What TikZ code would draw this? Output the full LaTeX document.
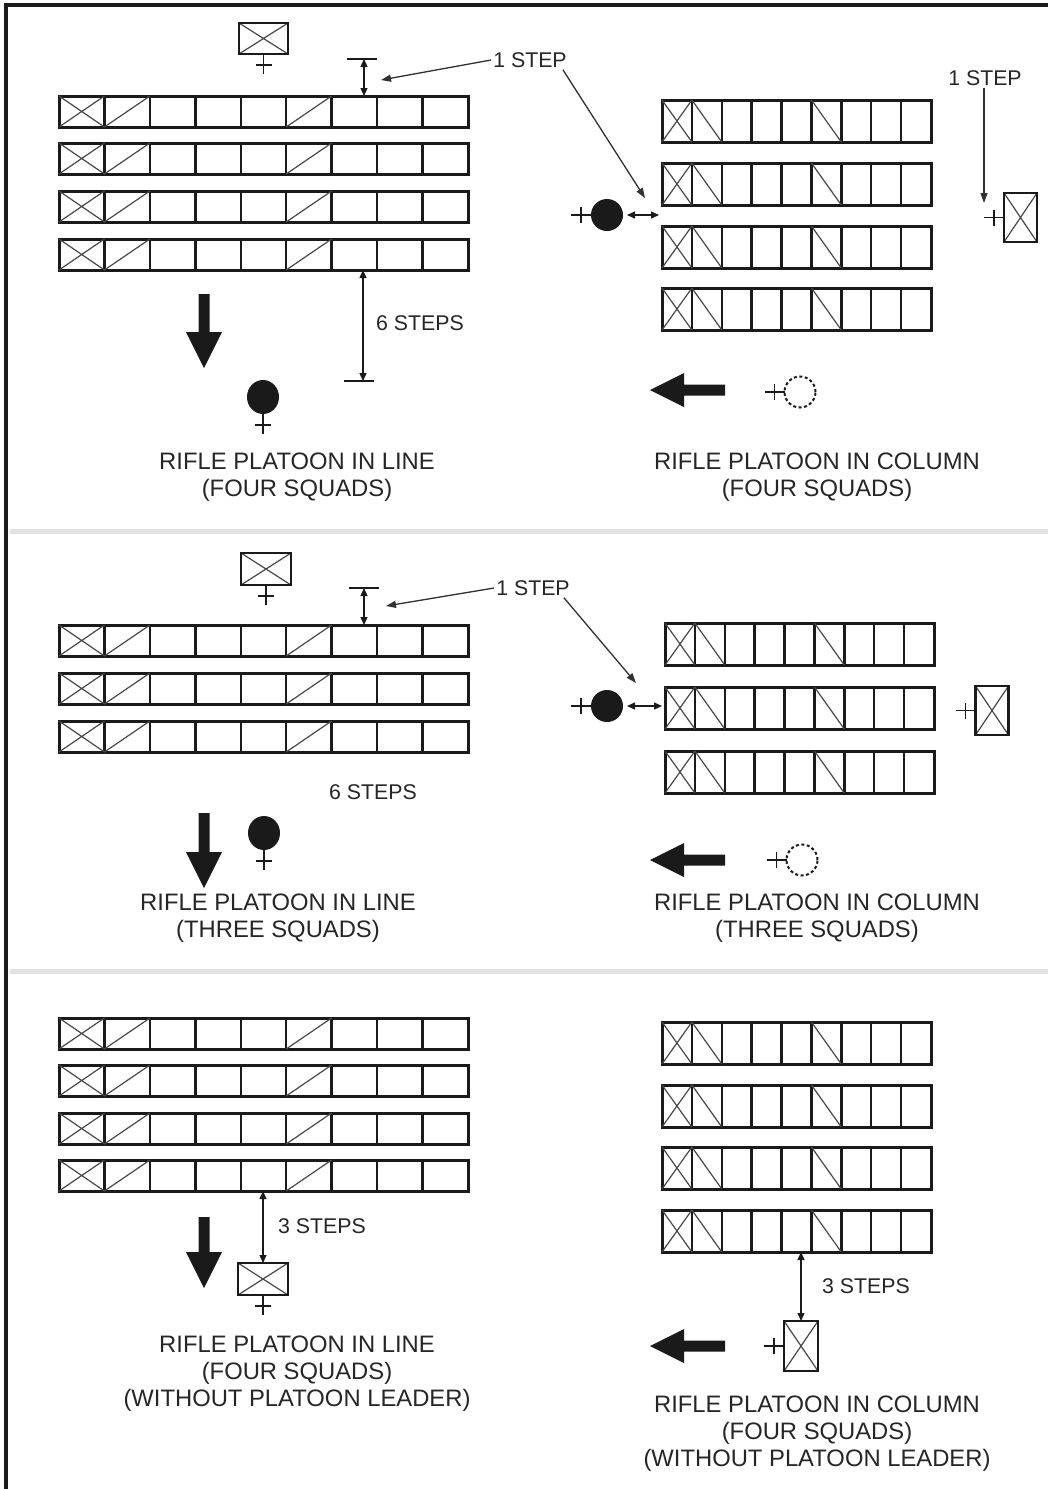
\documentclass[tikz,border=0pt]{standalone}
\usepackage{fontspec}
\setmainfont{Liberation Sans}
\usetikzlibrary{arrows.meta,shapes.geometric,calc}
\definecolor{ink}{HTML}{1A1A1A}
\definecolor{txt}{HTML}{262626}
\definecolor{sepgray}{HTML}{E3E3E3}
\tikzset{
  rowframe/.style={draw=ink, line width=3pt, inner sep=0pt, outer sep=0pt},
  cellsep/.style={draw=ink, line width=2.4pt},
  diag/.style={draw=ink!80, line width=1.2pt},
  leaderbox/.style={draw=ink, line width=2.5pt, inner sep=0pt, outer sep=0pt,
    path picture={\draw[diag] (path picture bounding box.north west) -- (path picture bounding box.south east)
      (path picture bounding box.south west) -- (path picture bounding box.north east);}},
  crossmark/.style={draw=ink, line width=1.3pt},
  leaderdot/.style={fill=ink, ellipse, inner sep=0pt, outer sep=0pt, minimum width=32pt, minimum height=34pt},
  coldot/.style={fill=ink, circle, inner sep=0pt, outer sep=0pt, minimum size=32pt},
  dashdot/.style={draw=ink, circle, line width=2pt, dash pattern=on 3pt off 2.5pt, inner sep=0pt, outer sep=0pt, minimum size=31pt},
  dimarrow/.style={draw=ink, line width=1.3pt, {Triangle[length=8pt,width=7pt]}-{Triangle[length=8pt,width=7pt]}},
  leadarrow/.style={draw=ink!90, line width=1.3pt, -{Triangle[length=10pt,width=7pt]}},
  dimbar/.style={draw=ink, line width=1.5pt},
  bigarrow/.style={fill=ink},
  steplabel/.style={text=txt, font=\fontsize{21.3}{25}\selectfont, inner sep=2pt},
  titletext/.style={text=txt, font=\fontsize{23.8}{27}\selectfont, align=center, inner sep=0pt},
}
\newcommand{\LineRow}[3]{%
  \node[rowframe, minimum width=409pt, minimum height=31pt, anchor=north west] (#1) at (#2,#3) {};
  \begin{scope}[shift={(#2,#3)}]
    \foreach \k in {1,...,8} \draw[cellsep] ({\k*45.44},0) -- ({\k*45.44},31);
    \draw[diag] (0,0) -- (45.44,31) (0,31) -- (45.44,0) (45.44,31) -- (90.89,0) (227.2,31) -- (272.6,0);
  \end{scope}}
\newcommand{\ColRow}[3]{%
  \node[rowframe, minimum width=269pt, minimum height=42pt, anchor=north west] (#1) at (#2,#3) {};
  \begin{scope}[shift={(#2,#3)}]
    \foreach \k in {1,...,8} \draw[cellsep] ({\k*29.89},0) -- ({\k*29.89},42);
    \draw[diag] (0,0) -- (29.89,42) (0,42) -- (29.89,0) (29.89,0) -- (59.78,42) (149.4,0) -- (179.3,42);
  \end{scope}}
\newcommand{\DownArrow}[3]{%
  \fill[bigarrow] (#1-5.5,#2) -- (#1+5.5,#2) -- (#1+5.5,#3-36) -- (#1+18,#3-36) -- (#1,#3)
    -- (#1-18,#3-36) -- (#1-5.5,#3-36) -- cycle;}
\newcommand{\LeftArrow}[3]{%
  \fill[bigarrow] (#1,#2) -- (#1+34,#2-17) -- (#1+34,#2-5.5) -- (#3,#2-5.5) -- (#3,#2+5.5)
    -- (#1+34,#2+5.5) -- (#1+34,#2+17) -- cycle;}
\newcommand{\CrossBelow}[1]{%
  \draw[crossmark] (#1.south) -- ++(0,20) ($(#1.south)+(-8,11)$) -- ++(16,0);}
\newcommand{\CrossLeft}[1]{%
  \draw[crossmark] (#1.west) -- ++(-20,0) ($(#1.west)+(-10,-8)$) -- ++(0,16);}

\begin{document}
\begin{tikzpicture}[x=1pt, y=-1pt]
\useasboundingbox (0,0) rectangle (1048,1489);
\fill[white] (0,0) rectangle (1048,1489);
% frame and separators
\draw[ink, line width=4pt, line join=miter] (6,1489) -- (6,5) -- (1048,5);
\draw[sepgray, line width=5pt] (10,531) -- (1048,531);
\draw[sepgray, line width=5pt] (10,971) -- (1048,971);

% ===== Section 1 : line, four squads =====
\node[leaderbox, minimum width=49pt, minimum height=31pt] (pl1) at (263.5,38.5) {};
\CrossBelow{pl1}
\LineRow{la1}{59}{96}
\LineRow{la2}{59}{143}
\LineRow{la3}{59}{191}
\LineRow{la4}{59}{239}
\coordinate (b1) at (364,59);
\draw[dimbar] (347,59) -- (377,59);
\draw[dimarrow] (b1) -- (b1 |- la1.north);
\node[steplabel] (s1) at (530,60) {1 STEP};
\coordinate (s1t1) at (381,80);
\coordinate (s1t2) at (645,198);
\draw[leadarrow] (s1.west) -- (s1t1);
\draw[leadarrow] ([xshift=-6pt]s1.south east) -- (s1t2);
\coordinate (b6) at (363,381);
\draw[dimbar] (344,381) -- (374,381);
\draw[dimarrow] (b6 |- la4.south) -- (b6);
\node[steplabel] (s6) at (420,323) {6 STEPS};
\DownArrow{204}{294}{368}
\node[leaderdot] (pd1) at (263,397) {};
\CrossBelow{pd1}
\node[titletext] (t1l) at (297,477) {RIFLE PLATOON IN LINE\\(FOUR SQUADS)};

% column, four squads
\ColRow{ca1}{662}{100}
\ColRow{ca2}{662}{163}
\ColRow{ca3}{662}{226}
\ColRow{ca4}{662}{288}
\node[coldot] (cd1) at (607,215) {};
\CrossLeft{cd1}
\draw[dimarrow] ([xshift=4pt]cd1.east) -- ([xshift=-3pt]cd1.east -| ca2.west);
\node[steplabel] (s1r) at (985,78) {1 STEP};
\coordinate (s1rt) at (984,203);
\draw[leadarrow] (s1r.south -| s1rt) -- (s1rt);
\node[leaderbox, minimum width=33pt, minimum height=49pt] (pr1) at (1020.5,217.5) {};
\CrossLeft{pr1}
\LeftArrow{650}{390}{725}
\node[dashdot] (dd1) at (800,392) {};
\CrossLeft{dd1}
\node[titletext] (t1r) at (817,477) {RIFLE PLATOON IN COLUMN\\(FOUR SQUADS)};

% ===== Section 2 : three squads =====
\node[leaderbox, minimum width=50pt, minimum height=32pt] (pl2) at (266,569) {};
\CrossBelow{pl2}
\LineRow{lb1}{59}{625}
\LineRow{lb2}{59}{673}
\LineRow{lb3}{59}{721}
\coordinate (b2) at (364,588);
\draw[dimbar] (349,588) -- (379,588);
\draw[dimarrow] (b2) -- (b2 |- lb1.north);
\node[steplabel] (s2) at (533,588) {1 STEP};
\coordinate (s2t1) at (386,606);
\coordinate (s2t2) at (636,683);
\draw[leadarrow] (s2.west) -- (s2t1);
\draw[leadarrow] ([xshift=-8pt]s2.south east) -- (s2t2);
\node[steplabel] (s6b) at (373,792) {6 STEPS};
\DownArrow{204}{813}{888}
\node[leaderdot] (pd2) at (264,833) {};
\CrossBelow{pd2}
\node[titletext] (t2l) at (278,918) {RIFLE PLATOON IN LINE\\(THREE SQUADS)};

\ColRow{cb1}{665}{623}
\ColRow{cb2}{665}{687}
\ColRow{cb3}{665}{751}
\node[coldot] (cd2) at (607,706) {};
\CrossLeft{cd2}
\draw[dimarrow] ([xshift=4pt]cd2.east) -- ([xshift=-3pt]cd2.east -| cb2.west);
\node[leaderbox, minimum width=33pt, minimum height=49pt] (pr2) at (992,710.5) {};
\CrossLeft{pr2}
\LeftArrow{650}{860}{725}
\node[dashdot] (dd2) at (802,860) {};
\CrossLeft{dd2}
\node[titletext] (t2r) at (817,918) {RIFLE PLATOON IN COLUMN\\(THREE SQUADS)};

% ===== Section 3 : without platoon leader =====
\LineRow{lc1}{59}{1018}
\LineRow{lc2}{59}{1065}
\LineRow{lc3}{59}{1113}
\LineRow{lc4}{59}{1160}
\node[leaderbox, minimum width=50pt, minimum height=32pt] (pl3) at (263,1279) {};
\CrossBelow{pl3}
\draw[dimarrow] (pl3.north) -- (pl3.north |- lc4.south);
\node[steplabel] (s3l) at (322,1226) {3 STEPS};
\DownArrow{204}{1217}{1288}
\node[titletext] (t3l) at (297,1373.5) {RIFLE PLATOON IN LINE\\(FOUR SQUADS)\\(WITHOUT PLATOON LEADER)};

\ColRow{cc1}{662}{1022}
\ColRow{cc2}{662}{1085}
\ColRow{cc3}{662}{1147}
\ColRow{cc4}{662}{1210}
\node[leaderbox, minimum width=34pt, minimum height=50pt] (pr3) at (801,1346) {};
\CrossLeft{pr3}
\draw[dimarrow] (pr3.north) -- (pr3.north |- cc4.south);
\node[steplabel] (s3r) at (866,1286) {3 STEPS};
\LeftArrow{650}{1346}{725}
\node[titletext] (t3r) at (817,1433.5) {RIFLE PLATOON IN COLUMN\\(FOUR SQUADS)\\(WITHOUT PLATOON LEADER)};
\end{tikzpicture}
\end{document}
